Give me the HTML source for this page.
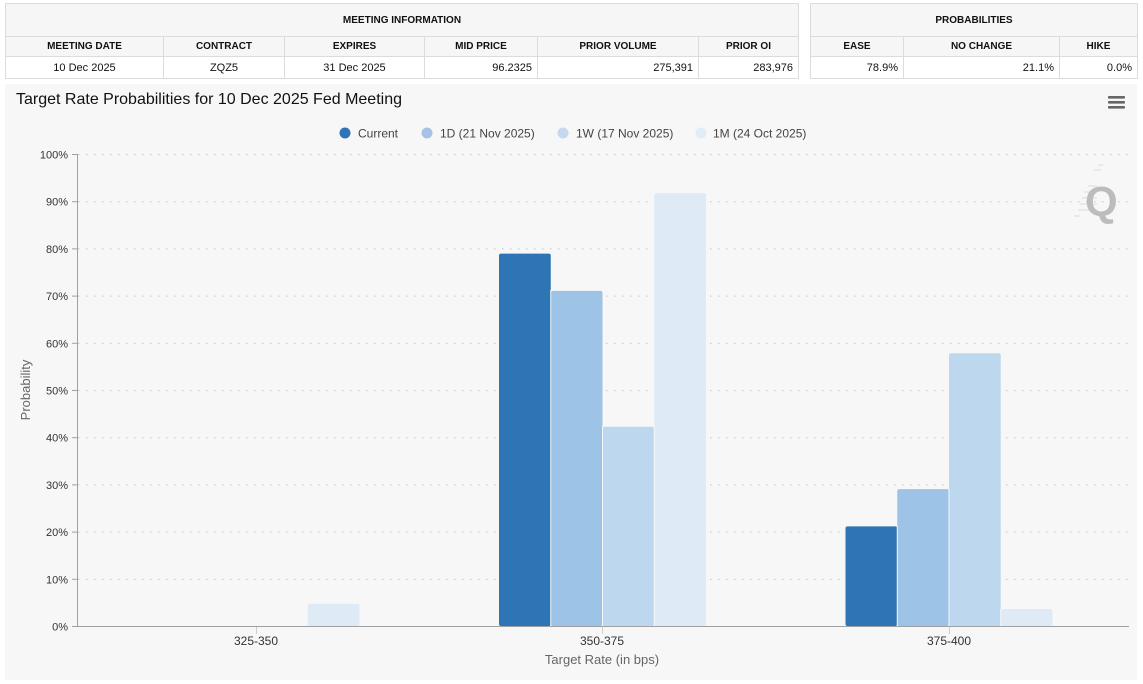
<!DOCTYPE html>
<html>
<head>
<meta charset="utf-8">
<style>
html,body{margin:0;padding:0;background:#fff;width:1143px;height:684px;overflow:hidden;font-family:"Liberation Sans",Arial,sans-serif;}
.t{position:absolute;border-collapse:collapse;font-family:"Liberation Sans",Arial,sans-serif;color:#111;}
.t td{border:1px solid #dcdcdc;padding:0 5px;box-sizing:border-box;}
.h td{background:#f6f6f6;font-weight:bold;font-size:10px;text-align:center;height:33px;}
.c td{background:#f6f6f6;font-weight:bold;font-size:10px;text-align:center;height:20px;}
.d td{background:#fff;font-size:11px;height:22px;}
.r{text-align:right;}
.m{text-align:center;}
</style>
</head>
<body>
<table class="t" style="left:5px;top:3px;width:794px;">
<tr class="h"><td colspan="6">MEETING INFORMATION</td></tr>
<tr class="c"><td style="width:158px">MEETING DATE</td><td style="width:121px">CONTRACT</td><td style="width:140px">EXPIRES</td><td style="width:113px">MID PRICE</td><td style="width:161px">PRIOR VOLUME</td><td>PRIOR OI</td></tr>
<tr class="d"><td class="m">10 Dec 2025</td><td class="m">ZQZ5</td><td class="m">31 Dec 2025</td><td class="r">96.2325</td><td class="r">275,391</td><td class="r">283,976</td></tr>
</table>
<table class="t" style="left:810px;top:3px;width:328px;">
<tr class="h"><td colspan="3">PROBABILITIES</td></tr>
<tr class="c"><td style="width:93px">EASE</td><td style="width:156px">NO CHANGE</td><td>HIKE</td></tr>
<tr class="d"><td class="r">78.9%</td><td class="r">21.1%</td><td class="r">0.0%</td></tr>
</table>

<svg style="position:absolute;left:0;top:0" width="1143" height="684" xmlns="http://www.w3.org/2000/svg" font-family="Liberation Sans, Arial, sans-serif">
<rect x="5" y="84" width="1132" height="596" fill="#f7f7f7"/>
<text x="16" y="104" font-size="16" fill="#111">Target Rate Probabilities for 10 Dec 2025 Fed Meeting</text>
<!-- menu -->
<rect x="1108" y="96" width="17" height="2.6" rx="1" fill="#666"/>
<rect x="1108" y="101" width="17" height="2.6" rx="1" fill="#666"/>
<rect x="1108" y="106" width="17" height="2.6" rx="1" fill="#666"/>
<!-- legend -->
<g font-size="12" fill="#444">
<circle cx="345" cy="133" r="5.5" fill="#2e75b6"/><text x="358" y="137.5">Current</text>
<circle cx="427" cy="133" r="5.5" fill="#a6c3e7"/><text x="440" y="137.5">1D (21 Nov 2025)</text>
<circle cx="563" cy="133" r="5.5" fill="#c4d9ee"/><text x="576" y="137.5">1W (17 Nov 2025)</text>
<circle cx="701" cy="133" r="5.5" fill="#e2ecf7"/><text x="713" y="137.5">1M (24 Oct 2025)</text>
</g>
<!-- grid -->
<g stroke="#c4c4c4" stroke-width="1" stroke-dasharray="1.5,6.5">
<line x1="78" x2="1129" y1="154.5" y2="154.5"/>
<line x1="78" x2="1129" y1="201.7" y2="201.7"/>
<line x1="78" x2="1129" y1="248.9" y2="248.9"/>
<line x1="78" x2="1129" y1="296.1" y2="296.1"/>
<line x1="78" x2="1129" y1="343.3" y2="343.3"/>
<line x1="78" x2="1129" y1="390.5" y2="390.5"/>
<line x1="78" x2="1129" y1="437.7" y2="437.7"/>
<line x1="78" x2="1129" y1="484.9" y2="484.9"/>
<line x1="78" x2="1129" y1="532.1" y2="532.1"/>
<line x1="78" x2="1129" y1="579.3" y2="579.3"/>
</g>
<!-- Q logo -->
<g opacity="0.75">
<g stroke="#c9d6d6" stroke-width="1">
<line x1="1098" y1="165" x2="1103" y2="165"/>
<line x1="1094" y1="170" x2="1101" y2="170"/>
<line x1="1088" y1="186" x2="1097" y2="186"/>
<line x1="1084" y1="192" x2="1097" y2="192"/>
<line x1="1082" y1="198" x2="1097" y2="198"/>
<line x1="1080" y1="204" x2="1097" y2="204"/>
<line x1="1078" y1="210" x2="1097" y2="210"/>
<line x1="1074" y1="216" x2="1080" y2="216"/>
</g>
<text x="1085" y="216" font-size="42" font-weight="bold" fill="#a9a9a9">Q</text>
</g>
<!-- bars -->
<g>
<rect x="307.75" y="603.8" width="51.75" height="22.2" rx="2" fill="#deebf7"/>
<rect x="499" y="253.6" width="51.75" height="372.4" rx="2" fill="#2e75b6"/>
<rect x="550.75" y="290.9" width="51.75" height="335.1" rx="2" fill="#9dc3e6"/>
<rect x="602.5" y="426.8" width="51.75" height="199.2" rx="2" fill="#bdd7ee"/>
<rect x="654.25" y="193.2" width="51.75" height="432.8" rx="2" fill="#deebf7"/>
<rect x="845.5" y="526.4" width="51.75" height="99.6" rx="2" fill="#2e75b6"/>
<rect x="897.25" y="489.1" width="51.75" height="136.9" rx="2" fill="#9dc3e6"/>
<rect x="949" y="353.2" width="51.75" height="272.8" rx="2" fill="#bdd7ee"/>
<rect x="1000.75" y="609" width="51.75" height="17" rx="2" fill="#deebf7"/>
</g>
<g stroke="#f7f7f7" stroke-width="1">
<line x1="550.75" y1="290" x2="550.75" y2="626"/>
<line x1="602.5" y1="426" x2="602.5" y2="626"/>
<line x1="654.25" y1="426" x2="654.25" y2="626"/>
<line x1="897.25" y1="526" x2="897.25" y2="626"/>
<line x1="949" y1="489" x2="949" y2="626"/>
<line x1="1000.75" y1="609" x2="1000.75" y2="626"/>
</g>
<!-- axes -->
<line x1="77.5" y1="154" x2="77.5" y2="626.5" stroke="#a0a0a0" stroke-width="1"/>
<line x1="77" y1="626.5" x2="1129" y2="626.5" stroke="#a0a0a0" stroke-width="1"/>
<g stroke="#a0a0a0" stroke-width="1">
<line x1="72" x2="77" y1="154.5" y2="154.5"/>
<line x1="72" x2="77" y1="201.7" y2="201.7"/>
<line x1="72" x2="77" y1="248.9" y2="248.9"/>
<line x1="72" x2="77" y1="296.1" y2="296.1"/>
<line x1="72" x2="77" y1="343.3" y2="343.3"/>
<line x1="72" x2="77" y1="390.5" y2="390.5"/>
<line x1="72" x2="77" y1="437.7" y2="437.7"/>
<line x1="72" x2="77" y1="484.9" y2="484.9"/>
<line x1="72" x2="77" y1="532.1" y2="532.1"/>
<line x1="72" x2="77" y1="579.3" y2="579.3"/>
<line x1="72" x2="77" y1="626.5" y2="626.5"/>
</g>
<g stroke="#cfcfcf" stroke-width="1">
<line x1="256.5" x2="256.5" y1="627" y2="634"/>
<line x1="602.5" x2="602.5" y1="627" y2="634"/>
<line x1="949.5" x2="949.5" y1="627" y2="634"/>
</g>
<g font-size="11" fill="#333" text-anchor="end">
<text x="68" y="158.5">100%</text>
<text x="68" y="205.7">90%</text>
<text x="68" y="252.9">80%</text>
<text x="68" y="300.1">70%</text>
<text x="68" y="347.3">60%</text>
<text x="68" y="394.5">50%</text>
<text x="68" y="441.7">40%</text>
<text x="68" y="488.9">30%</text>
<text x="68" y="536.1">20%</text>
<text x="68" y="583.3">10%</text>
<text x="68" y="630.5">0%</text>
</g>
<g font-size="12" fill="#333" text-anchor="middle">
<text x="256" y="645">325-350</text>
<text x="602" y="645">350-375</text>
<text x="949" y="645">375-400</text>
</g>
<text x="602" y="664" font-size="13" fill="#666" text-anchor="middle">Target Rate (in bps)</text>
<text transform="translate(30,390) rotate(-90)" font-size="13" fill="#666" text-anchor="middle">Probability</text>
</svg>
</body>
</html>
